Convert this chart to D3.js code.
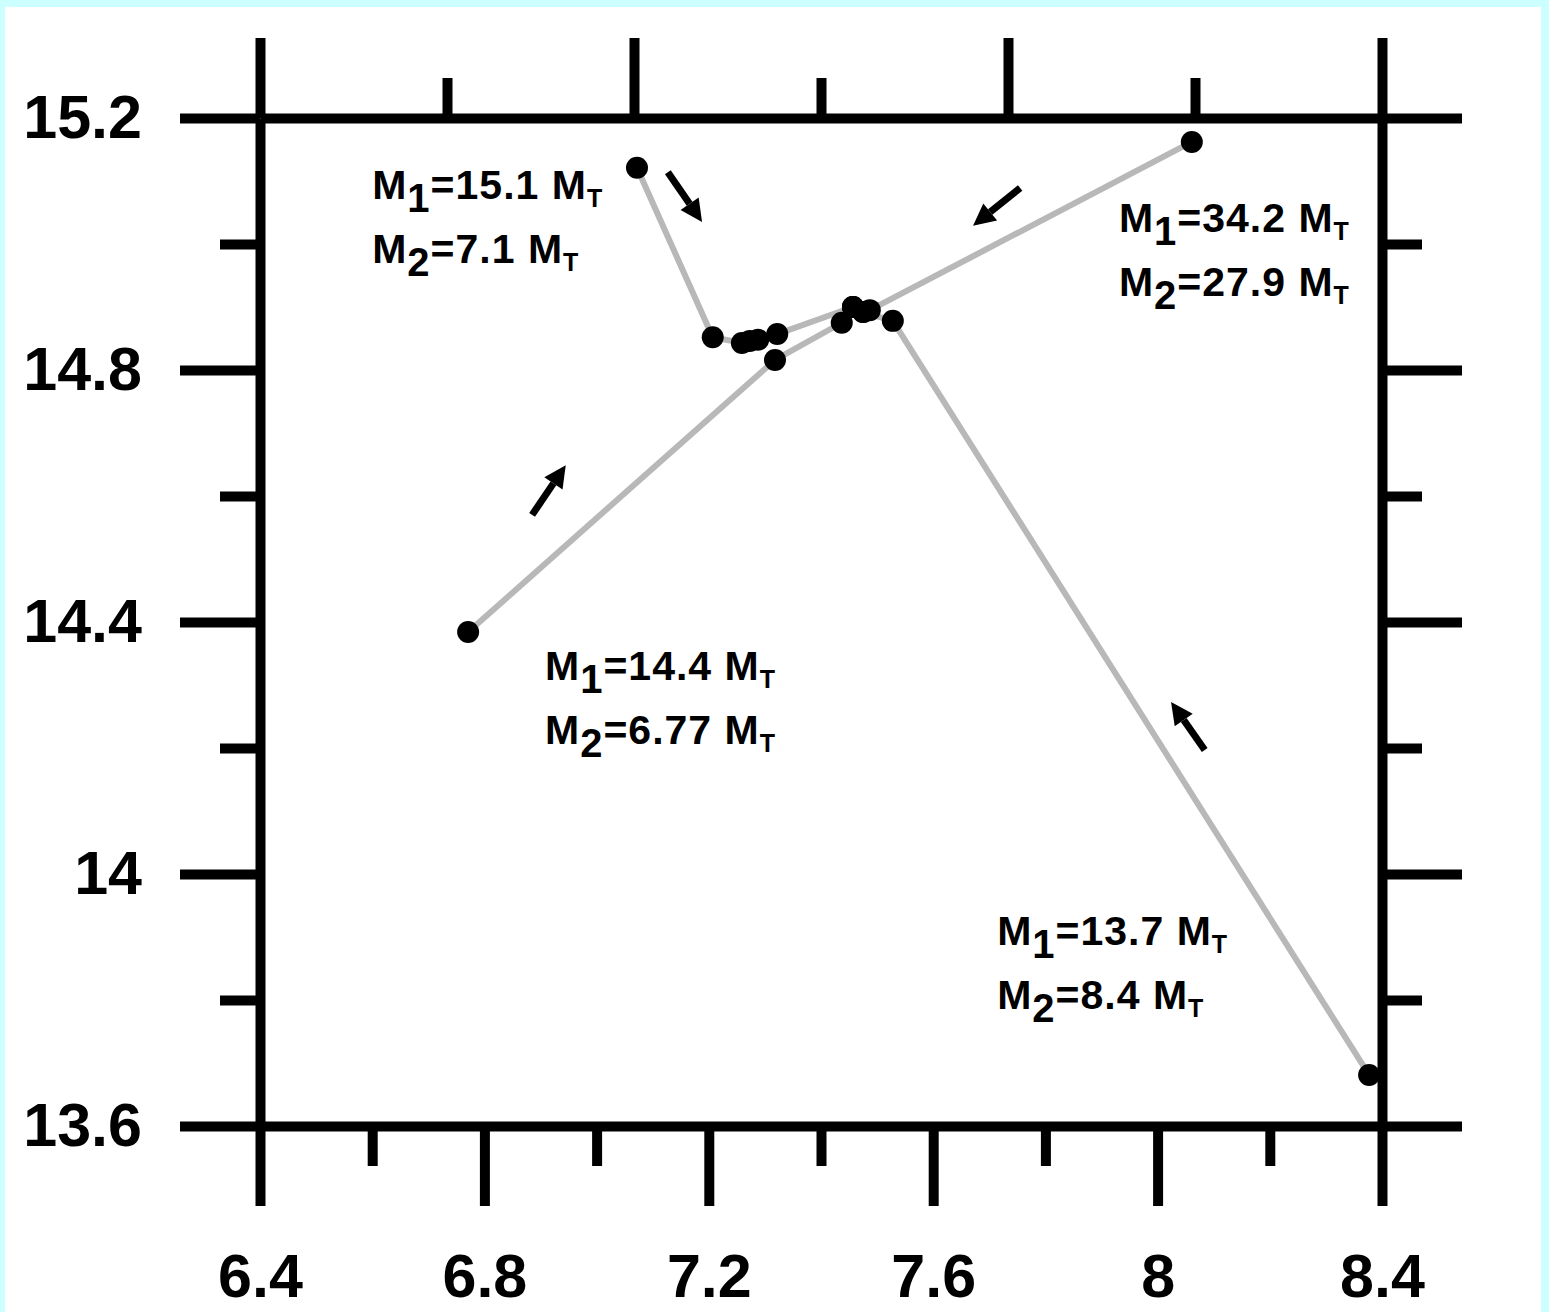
<!DOCTYPE html>
<html>
<head>
<meta charset="utf-8">
<script src="https://d3js.org/d3.v7.min.js"></script>
<style>
  body { margin: 0; background: #ccffff; }
  svg { display: block; }
  text { font-family: "Liberation Sans", Arial, Helvetica, sans-serif; font-weight: bold; fill: #000; }
</style>
</head>
<body>
<svg id="chart" width="1549" height="1312"></svg>
<script>
// evolution tracks, [x, y] per step
const trackA = [[7.072, 15.121], [7.207, 14.852], [7.259, 14.843], [7.273, 14.846], [7.288, 14.848], [7.322, 14.857], [7.457, 14.900]];
const trackB = [[8.061, 15.162], [7.487, 14.895], [7.475, 14.892], [7.457, 14.900]];
const trackC = [[6.771, 14.384], [7.318, 14.816], [7.437, 14.875], [7.457, 14.900]];
const trackD = [[8.377, 13.681], [7.528, 14.878], [7.475, 14.892]];

// direction arrows: [x0, y0, x1, y1]
const arrows = [
  [7.127, 15.114, 7.188, 15.035],
  [7.755, 15.089, 7.671, 15.029],
  [6.885, 14.570, 6.945, 14.649],
  [8.084, 14.197, 8.024, 14.273]
];

// starting masses
const labelM1 = ['15.1', '34.2', '14.4', '13.7'];
const labelM2 = ['7.1', '27.9', '6.77', '8.4'];
const labelX = [6.600, 7.931, 6.908, 7.714];
const labelY = [15.071, 15.019, 14.308, 13.887];

// ticks
const xMajorTicks = [6.4, 6.8, 7.2, 7.6, 8.0, 8.4];
const xMinorTicks = [6.6, 7.0, 7.4, 7.8, 8.2];
const yMajorTicks = [13.6, 14.0, 14.4, 14.8, 15.2];
const yMinorTicks = [13.8, 14.2, 14.6, 15.0];
const topMajorTicks = [0, 1, 2, 3];
const topMinorTicks = [0.5, 1.5, 2.5];

let svg = d3.select('#chart');

svg.append('rect')
  .attr('x', 5).attr('y', 7)
  .attr('width', 1536).attr('height', 1305)
  .attr('fill', '#ffffff');

let x = d3.scaleLinear().domain([6.4, 8.4]).range([260, 1382]);
let y = d3.scaleLinear().domain([13.6, 15.2]).range([1126, 118]);
let xTop = d3.scaleLinear().domain([0, 3]).range([260, 1382]);

let fmt = d => String(+d.toFixed(1));

/** Draw one axis group with thick strokes. */
function drawAxis(axis, tx, ty, keepDomain) {
  let g = svg.append('g')
    .attr('transform', `translate(${tx}, ${ty})`)
    .call(axis.tickSizeOuter(0));
  g.attr('font-size', 61).attr('stroke-width', 10);
  g.selectAll('.tick line').attr('stroke-width', 10);
  g.select('.domain').attr('stroke-width', 10);
  if (!keepDomain) g.select('.domain').remove();
  return g;
}

drawAxis(d3.axisLeft(y).tickValues(yMajorTicks).tickSize(80).tickPadding(38).tickFormat(fmt), 260, 0, true);
drawAxis(d3.axisLeft(y).tickValues(yMinorTicks).tickSize(40).tickFormat(''), 260, 0, false);
drawAxis(d3.axisRight(y).tickValues(yMajorTicks).tickSize(80).tickFormat(''), 1382, 0, true);
drawAxis(d3.axisRight(y).tickValues(yMinorTicks).tickSize(40).tickFormat(''), 1382, 0, false);
drawAxis(d3.axisBottom(x).tickValues(xMajorTicks).tickSize(80).tickPadding(48).tickFormat(fmt), 0, 1126, true);
drawAxis(d3.axisBottom(x).tickValues(xMinorTicks).tickSize(40).tickFormat(''), 0, 1126, false);
drawAxis(d3.axisTop(xTop).tickValues(topMajorTicks).tickSize(80).tickFormat(''), 0, 118, true);
drawAxis(d3.axisTop(xTop).tickValues(topMinorTicks).tickSize(40).tickFormat(''), 0, 118, false);

// tracks
let line = d3.line().x(d => x(d[0])).y(d => y(d[1]));
let tracks = [trackA, trackB, trackC, trackD];

svg.append('g').selectAll('path')
  .data(tracks).enter().append('path')
  .attr('d', line)
  .attr('fill', 'none')
  .attr('stroke', '#b8b8b8')
  .attr('stroke-width', 6)
  .attr('stroke-linejoin', 'round');

svg.append('g').selectAll('circle')
  .data(tracks.flat()).enter().append('circle')
  .attr('cx', d => x(d[0]))
  .attr('cy', d => y(d[1]))
  .attr('r', 11)
  .attr('fill', '#000');

// arrows
let ag = svg.append('g');
arrows.forEach(a => {
  let x0 = x(a[0]), y0 = y(a[1]), x1 = x(a[2]), y1 = y(a[3]);
  let ang = Math.atan2(y1 - y0, x1 - x0);
  let hl = 22, hw = 11;
  let bx = x1 - hl * Math.cos(ang), by = y1 - hl * Math.sin(ang);
  ag.append('line')
    .attr('x1', x0).attr('y1', y0).attr('x2', bx).attr('y2', by)
    .attr('stroke', '#000').attr('stroke-width', 7);
  ag.append('path')
    .attr('d', `M${x1},${y1}L${bx - hw * Math.sin(ang)},${by + hw * Math.cos(ang)}L${bx + hw * Math.sin(ang)},${by - hw * Math.cos(ang)}Z`)
    .attr('fill', '#000');
});

// mass labels
let lg = svg.append('g').attr('font-size', 41).attr('letter-spacing', 1);
labelM1.forEach((m1, i) => {
  let px = x(labelX[i]), py = y(labelY[i]);
  [['1', m1, 0], ['2', labelM2[i], 64]].forEach(r => {
    let t = lg.append('text').attr('x', px).attr('y', py + r[2]);
    t.append('tspan').text('M');
    t.append('tspan').attr('dy', 13).attr('font-size', 40).text(r[0]);
    t.append('tspan').attr('dy', -13).text('=' + r[1] + ' M');
    t.append('tspan').attr('dy', 8).attr('font-size', 25).text('T');
  });
});
</script>
</body>
</html>
